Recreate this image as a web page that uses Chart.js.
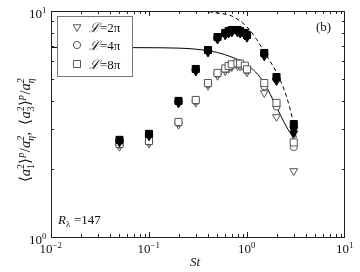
<!DOCTYPE html>
<html>
<head>
<meta charset="utf-8">
<script src="https://cdn.jsdelivr.net/npm/chart.js"></script>
<style>
  body { margin: 0; background: #fff; }
  #wrap { width: 360px; height: 272px; position: relative; }
</style>
</head>
<body>
<div id="wrap"><canvas id="accChart"></canvas></div>
<script>
// Stokes numbers of the simulations
const stokes = [0.05, 0.1, 0.2, 0.3, 0.4, 0.5, 0.6, 0.65, 0.7, 0.8, 0.85, 0.95, 1.0, 1.5, 2, 3];

// <a3^2>p / a_eta^2  (filled symbols)
const a3L8 = [2.69, 2.86, 4.0, 5.54, 6.72, 7.67, 8.0, 8.16, 8.24, 8.24, 8.16, 8.0, 7.83, 6.52, 5.1, 3.16];
const a3L4 = [2.67, 2.84, 3.97, 5.5, 6.68, 7.62, 7.95, 8.1, 8.18, 8.18, 8.1, 7.95, 7.78, 6.45, 5.02, 3.05];
const a3L2 = [2.62, 2.79, 3.9, 5.4, 6.55, 7.48, 7.8, 7.95, 8.03, 8.03, 7.95, 7.8, 7.62, 6.3, 4.9, 2.88];

// <a1^2>p / a_eta^2  (open symbols)
const a1L8 = [2.58, 2.66, 3.23, 4.04, 4.8, 5.32, 5.57, 5.71, 5.81, 5.87, 5.85, 5.73, 5.52, 4.8, 3.92, 2.62];
const a1L4 = [2.56, 2.64, 3.2, 4.0, 4.76, 5.27, 5.52, 5.66, 5.76, 5.82, 5.8, 5.68, 5.46, 4.65, 3.78, 2.5];
const a1L2 = [2.51, 2.59, 3.14, 3.93, 4.67, 5.17, 5.42, 5.55, 5.65, 5.71, 5.69, 5.57, 5.36, 4.34, 3.4, 1.96];

// model curves
const solidSt = [0.01, 0.1, 0.2, 0.3, 0.5, 0.7, 1.0, 1.5, 2.0, 2.5, 3.0, 3.1];
const solidVal = [6.9, 6.88, 6.85, 6.78, 6.55, 6.25, 5.8, 4.8, 3.75, 3.1, 2.7, 2.6];
const dashSt = [0.25, 0.35, 0.5, 0.7, 1.0, 1.25, 1.6, 2.0, 2.5, 3.0, 3.2];
const dashVal = [10.2, 10.0, 9.8, 9.5, 8.5, 7.5, 6.3, 5.35, 4.25, 3.15, 2.7];

const xTicks = [-2, -1, 0, 1];
const yTicks = [0, 1];
const legendLabels = ['2π', '4π', '8π'];

function pts(xs, ys) {
  return xs.map((v, i) => ({ x: v, y: ys[i] }));
}

const filled = { backgroundColor: '#000', borderColor: '#000', borderWidth: 1 };
const open = { backgroundColor: '#fff', borderColor: '#555', borderWidth: 1 };

// draws text with sub / superscripts, returns width
function richText(ctx, segs, x, y, size, draw) {
  let cx = x;
  for (const s of segs) {
    if (s.sub !== undefined || s.sup !== undefined) {
      ctx.font = `${s.i ? 'italic ' : ''}${size * 0.68}px "Liberation Serif", serif`;
      const w1 = s.sub ? ctx.measureText(s.sub).width : 0;
      const w2 = s.sup ? ctx.measureText(s.sup).width : 0;
      if (draw) {
        if (s.sub) ctx.fillText(s.sub, cx, y + size * 0.25);
        if (s.sup) ctx.fillText(s.sup, cx, y - size * 0.42);
      }
      cx += Math.max(w1, w2) + 0.5;
    } else {
      ctx.font = `${s.i ? 'italic ' : ''}${size}px "Liberation Serif", serif`;
      if (draw) ctx.fillText(s.t, cx, y);
      cx += ctx.measureText(s.t).width;
    }
  }
  return cx - x;
}

function marker(ctx, style, x, y) {
  ctx.beginPath();
  if (style === 'tri') {
    const r = 4.5;
    ctx.moveTo(x - r * 0.866, y - r / 2);
    ctx.lineTo(x + r * 0.866, y - r / 2);
    ctx.lineTo(x, y + r);
    ctx.closePath();
  } else if (style === 'circ') {
    ctx.arc(x, y, 3.6, 0, Math.PI * 2);
  } else {
    ctx.rect(x - 3.5, y - 3.5, 7, 7);
  }
  ctx.fillStyle = '#fff';
  ctx.fill();
  ctx.strokeStyle = '#555';
  ctx.stroke();
}

const deco = {
  id: 'deco',
  afterDraw(chart) {
    const { ctx, chartArea: a, scales: { x, y } } = chart;
    ctx.save();
    ctx.strokeStyle = '#222';
    ctx.lineWidth = 1;
    ctx.strokeRect(a.left + 0.5, a.top + 0.5, a.right - a.left - 1, a.bottom - a.top);

    // inward ticks, all four sides
    ctx.beginPath();
    for (let d = -2; d < 1; d++) {
      for (let m = 1; m <= 9; m++) {
        const px = Math.round(x.getPixelForValue(m * Math.pow(10, d))) + 0.5;
        const len = m === 1 ? 5 : 3;
        ctx.moveTo(px, a.bottom); ctx.lineTo(px, a.bottom - len);
        ctx.moveTo(px, a.top); ctx.lineTo(px, a.top + len);
      }
    }
    for (let m = 2; m <= 9; m++) {
      const py = Math.round(y.getPixelForValue(m)) + 0.5;
      ctx.moveTo(a.left, py); ctx.lineTo(a.left + 3, py);
      ctx.moveTo(a.right, py); ctx.lineTo(a.right - 3, py);
    }
    ctx.stroke();

    // tick labels
    ctx.fillStyle = '#111';
    ctx.textBaseline = 'alphabetic';
    for (const e of xTicks) {
      const segs = [{ t: '10' }, { sup: e < 0 ? '\u2212' + (-e) : String(e) }];
      const w = richText(ctx, segs, 0, 0, 13, false);
      richText(ctx, segs, x.getPixelForValue(Math.pow(10, e)) - w / 2, 253, 13, true);
    }
    for (const e of yTicks) {
      const segs = [{ t: '10' }, { sup: String(e) }];
      const w = richText(ctx, segs, 0, 0, 13, false);
      richText(ctx, segs, a.left - 4 - w, y.getPixelForValue(Math.pow(10, e)) + 7, 13, true);
    }

    // axis titles
    richText(ctx, [{ t: 'St', i: true }], 190, 266, 13, true);
    const ylab = [
      { t: '\u27e8' }, { t: 'a', i: true }, { sub: '1', sup: '2' }, { t: '\u27e9' }, { sup: 'p', i: true },
      { t: '/' }, { t: 'a', i: true }, { sub: 'η', sup: '2', i: true }, { t: ',  \u27e8' },
      { t: 'a', i: true }, { sub: '3', sup: '2' }, { t: '\u27e9' }, { sup: 'p', i: true },
      { t: '/' }, { t: 'a', i: true }, { sub: 'η', sup: '2', i: true }
    ];
    ctx.save();
    ctx.translate(30, 130);
    ctx.rotate(-Math.PI / 2);
    const wl = richText(ctx, ylab, 0, 0, 14.5, false);
    richText(ctx, ylab, -wl / 2, 0, 14.5, true);
    ctx.restore();

    // annotations
    richText(ctx, [{ t: '(b)' }], 316, 31, 13, true);
    richText(ctx, [{ t: 'R', i: true }, { sub: 'λ' }, { t: ' =147' }], 58, 224, 13, true);

    // legend box
    ctx.fillStyle = '#fff';
    ctx.fillRect(57, 16, 75, 60);
    ctx.strokeStyle = '#777';
    ctx.strokeRect(57.5, 16.5, 75, 60);
    const styles = ['tri', 'circ', 'rect'];
    const rows = [27, 45, 64];
    styles.forEach((st, i) => {
      marker(ctx, st, 77, rows[i]);
      ctx.fillStyle = '#111';
      richText(ctx, [{ t: '\u2112', i: true }, { t: '=' + legendLabels[i] }], 89, rows[i] + 5, 13, true);
    });
    ctx.restore();
  }
};

const chart = new Chart(document.getElementById('accChart').getContext('2d'), {
  type: 'scatter',
  data: {
    datasets: [
      { data: pts(stokes, a3L8), pointStyle: 'rect', pointRadius: 5, ...filled },
      { data: pts(stokes, a3L4), pointStyle: 'circle', pointRadius: 3.6, ...filled },
      { data: pts(stokes, a3L2), pointStyle: 'triangle', rotation: 180, pointRadius: 4.5, ...filled },
      { data: pts(stokes, a1L8), pointStyle: 'rect', pointRadius: 5, ...open },
      { data: pts(stokes, a1L4), pointStyle: 'circle', pointRadius: 3.6, ...open },
      { data: pts(stokes, a1L2), pointStyle: 'triangle', rotation: 180, pointRadius: 4.5, ...open },
      { data: pts(solidSt, solidVal), showLine: true, pointRadius: 0, borderColor: '#000', borderWidth: 1,
        cubicInterpolationMode: 'monotone' },
      { data: pts(dashSt, dashVal), showLine: true, pointRadius: 0, borderColor: '#000', borderWidth: 1,
        borderDash: [4, 3], cubicInterpolationMode: 'monotone' }
    ]
  },
  options: {
    responsive: true,
    maintainAspectRatio: false,
    animation: false,
    layout: { padding: { left: 51, right: 15, top: 11, bottom: 35 } },
    scales: {
      x: { type: 'logarithmic', min: 0.01, max: 10, display: false },
      y: { type: 'logarithmic', min: 1, max: 10, display: false }
    },
    plugins: {
      legend: { display: false },
      tooltip: { enabled: false }
    }
  },
  plugins: [deco]
});
</script>
</body>
</html>
